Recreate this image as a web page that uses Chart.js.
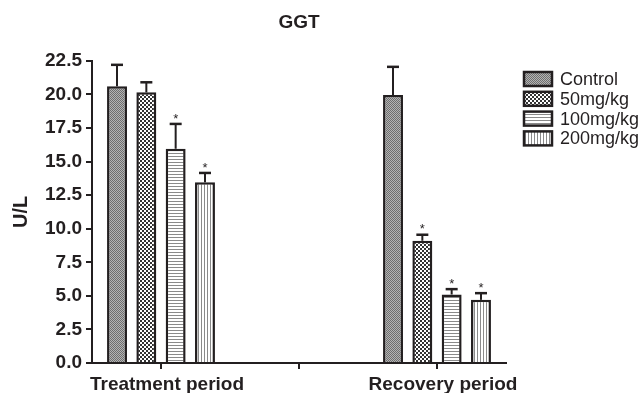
<!DOCTYPE html>
<html>
<head>
<meta charset="utf-8">
<script src="https://cdn.jsdelivr.net/npm/chart.js@4/dist/chart.umd.min.js"></script>
<style>
  html, body { margin: 0; padding: 0; background: #fff; }
  #wrap { width: 643px; height: 393px; }
</style>
</head>
<body>
<div id="wrap"><canvas id="myChart" width="643" height="393"></canvas></div>
<script>
const categories = ['Treatment period', '', 'Recovery period'];
const seriesNames = ['Control', '50mg/kg', '100mg/kg', '200mg/kg'];
const treatmentMeans = [20.6, 20.15, 15.95, 13.45];
const recoveryMeans = [19.95, 9.1, 5.1, 4.7];
const treatmentErr = [1.6, 0.75, 1.85, 0.7];
const recoveryErr = [2.1, 0.45, 0.4, 0.5];
const treatmentSig = [false, false, true, true];
const recoverySig = [false, true, true, true];

const FONT = "'Liberation Sans', Arial, sans-serif";
const INK = '#231f20';

// little tiles for the hatched fills
function makePattern(kind) {
    const c = document.createElement('canvas');
    const ctx = c.getContext('2d');
    if (kind === 0) {
        c.width = 2; c.height = 2;
        ctx.fillStyle = '#b4b4b4'; ctx.fillRect(0, 0, 2, 2);
        ctx.fillStyle = '#6e6e6e'; ctx.fillRect(0, 0, 1, 1); ctx.fillRect(1, 1, 1, 1);
    } else if (kind === 1) {
        c.width = 4; c.height = 4;
        ctx.fillStyle = '#fff'; ctx.fillRect(0, 0, 4, 4);
        ctx.fillStyle = '#333'; ctx.fillRect(0, 0, 2, 2); ctx.fillRect(2, 2, 2, 2);
    } else if (kind === 2) {
        c.width = 3; c.height = 3;
        ctx.fillStyle = '#fff'; ctx.fillRect(0, 0, 3, 3);
        ctx.fillStyle = '#8a8a8a'; ctx.fillRect(0, 0, 3, 1);
    } else {
        c.width = 3; c.height = 3;
        ctx.fillStyle = '#fff'; ctx.fillRect(0, 0, 3, 3);
        ctx.fillStyle = '#8a8a8a'; ctx.fillRect(0, 0, 1, 3);
    }
    return ctx.createPattern(c, 'repeat');
}
const patterns = seriesNames.map((n, i) => makePattern(i));

const datasets = seriesNames.map((name, i) => ({
    label: name,
    data: [treatmentMeans[i], null, recoveryMeans[i]],
    err: [treatmentErr[i], 0, recoveryErr[i]],
    sig: [treatmentSig[i], false, recoverySig[i]],
    backgroundColor: patterns[i],
    borderColor: INK,
    borderWidth: 2.5,
    borderSkipped: 'bottom',
    categoryPercentage: 0.85,
    barPercentage: 0.68
}));

const errorBars = {
    id: 'errorBars',
    afterDatasetsDraw(chart) {
        const ctx = chart.ctx;
        const y = chart.scales.y;
        ctx.save();
        ctx.strokeStyle = INK;
        ctx.fillStyle = INK;
        chart.data.datasets.forEach((ds, i) => {
            const meta = chart.getDatasetMeta(i);
            ds.data.forEach((v, j) => {
                if (v == null) return;
                const bar = meta.data[j];
                const top = y.getPixelForValue(v + ds.err[j]);
                ctx.lineWidth = 2;
                ctx.beginPath();
                ctx.moveTo(bar.x, bar.y);
                ctx.lineTo(bar.x, top);
                ctx.stroke();
                ctx.lineWidth = 2.5;
                ctx.beginPath();
                ctx.moveTo(bar.x - 6, top);
                ctx.lineTo(bar.x + 6, top);
                ctx.stroke();
                if (ds.sig[j]) {
                    ctx.font = '13px ' + FONT;
                    ctx.textAlign = 'center';
                    ctx.textBaseline = 'middle';
                    ctx.fillText('*', bar.x, top - 5);
                }
            });
        });
        ctx.restore();
    }
};

const sideLegend = {
    id: 'sideLegend',
    afterDraw(chart) {
        const ctx = chart.ctx;
        ctx.save();
        chart.data.datasets.forEach((ds, i) => {
            const cy = 79 + i * 19.8;
            ctx.fillStyle = ds.backgroundColor;
            ctx.fillRect(524, cy - 7, 28, 14);
            ctx.lineWidth = 2.5;
            ctx.strokeStyle = INK;
            ctx.strokeRect(524, cy - 7, 28, 14);
            ctx.fillStyle = INK;
            ctx.font = '18px ' + FONT;
            ctx.textAlign = 'left';
            ctx.textBaseline = 'middle';
            ctx.fillText(ds.label, 560, cy + 1);
        });
        ctx.restore();
    }
};

const config = {
    type: 'bar',
    data: { labels: categories, datasets: datasets },
    options: {
        responsive: false,
        animation: false,
        layout: { padding: { left: 0, right: 137, top: 0, bottom: 0 } },
        plugins: {
            legend: { display: false },
            tooltip: { enabled: false },
            title: {
                display: true,
                text: 'GGT',
                fullSize: false,
                color: INK,
                font: { family: FONT, size: 19, weight: 'bold' },
                padding: { top: 11, bottom: 27 }
            }
        },
        scales: {
            x: {
                afterFit(s) { s.height = 30; },
                grid: { offset: false, drawOnChartArea: false, drawTicks: true, tickLength: 6, color: INK, lineWidth: 2 },
                border: { color: INK, width: 2 },
                ticks: { color: INK, padding: 4, labelOffset: 6, maxRotation: 0, autoSkip: false, font: { family: FONT, size: 19, weight: 'bold' } }
            },
            y: {
                min: 0,
                max: 22.5,
                afterFit(s) { s.width = 92; },
                grid: { drawOnChartArea: false, drawTicks: true, tickLength: 6, color: INK, lineWidth: 2 },
                border: { color: INK, width: 2 },
                ticks: {
                    stepSize: 2.5,
                    color: INK,
                    padding: 4,
                    font: { family: FONT, size: 19, weight: 'bold' },
                    callback: v => v.toFixed(1)
                },
                title: {
                    display: true,
                    text: 'U/L',
                    color: INK,
                    font: { family: FONT, size: 20, weight: 'bold' },
                    padding: { top: 9, bottom: 0 }
                }
            }
        }
    },
    plugins: [errorBars, sideLegend]
};

const myChart = new Chart(document.getElementById('myChart'), config);
</script>
</body>
</html>
